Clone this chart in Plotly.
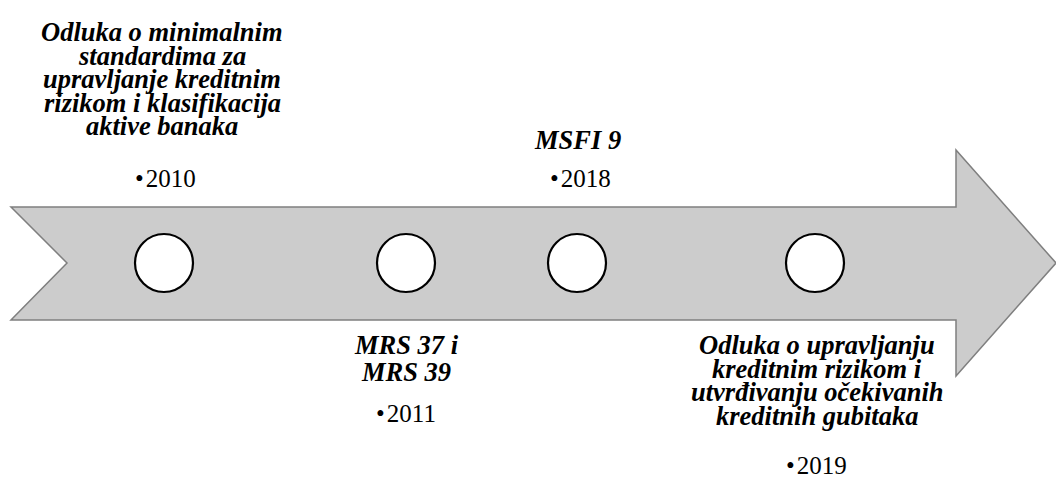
import plotly.graph_objects as go

# ---- data ----
years = ["2010", "2011", "2018", "2019"]
labels = [
    ["Odluka o minimalnim", "standardima za", "upravljanje kreditnim", "rizikom i klasifikacija", "aktive banaka"],
    ["MRS 37 i", "MRS 39"],
    ["MSFI 9"],
    ["Odluka o upravljanju", "kreditnim rizikom i", "utvrđivanju očekivanih", "kreditnih gubitaka"],
]

# ---- layout constants (pixel space) ----
W, H = 1056, 478
circle_x = [164, 406, 577, 815]
circle_y = 263
label_x = [162, 406, 577, 817]
label_top = [32, 345, 140, 345]
label_step = [23.5, 27, 23.5, 23.5]
year_x = [165, 406, 580, 816]
year_y = [178, 413, 178, 465]
FONT = "Liberation Serif, Times New Roman, serif"

fig = go.Figure()

arrow_path = (
    "M 11 207 L 956 207 L 956 150 L 1056 263 L 956 376 L 956 320 "
    "L 11 320 L 67 263 Z"
)
fig.add_shape(type="path", path=arrow_path, fillcolor="#cccccc",
              line=dict(color="#7f7f7f", width=1.5), layer="below")

fig.add_trace(go.Scatter(
    x=circle_x, y=[circle_y] * len(circle_x), mode="markers",
    marker=dict(size=58, color="white", line=dict(color="black", width=2.2)),
    hoverinfo="skip", showlegend=False,
))

for i, (yr, lab) in enumerate(zip(years, labels)):
    for j, line in enumerate(lab):
        fig.add_annotation(x=label_x[i], y=label_top[i] + j * label_step[i],
                           text=f"<b><i>{line}</i></b>",
                           showarrow=False, xanchor="center", yanchor="middle",
                           font=dict(family=FONT, size=26.5, color="black"))
    fig.add_annotation(x=year_x[i], y=year_y[i], text="•\u200a" + yr, showarrow=False,
                       xanchor="center", yanchor="middle",
                       font=dict(family=FONT, size=25, color="black"))

fig.update_xaxes(range=[0, W], visible=False, fixedrange=True)
fig.update_yaxes(range=[H, 0], visible=False, fixedrange=True)
fig.update_layout(width=W, height=H, margin=dict(l=0, r=0, t=0, b=0),
                  paper_bgcolor="white", plot_bgcolor="white", showlegend=False)

fig.write_html("out.html", config={"displayModeBar": False},
               post_script="document.body.style.margin='0';document.body.style.overflow='hidden';")
